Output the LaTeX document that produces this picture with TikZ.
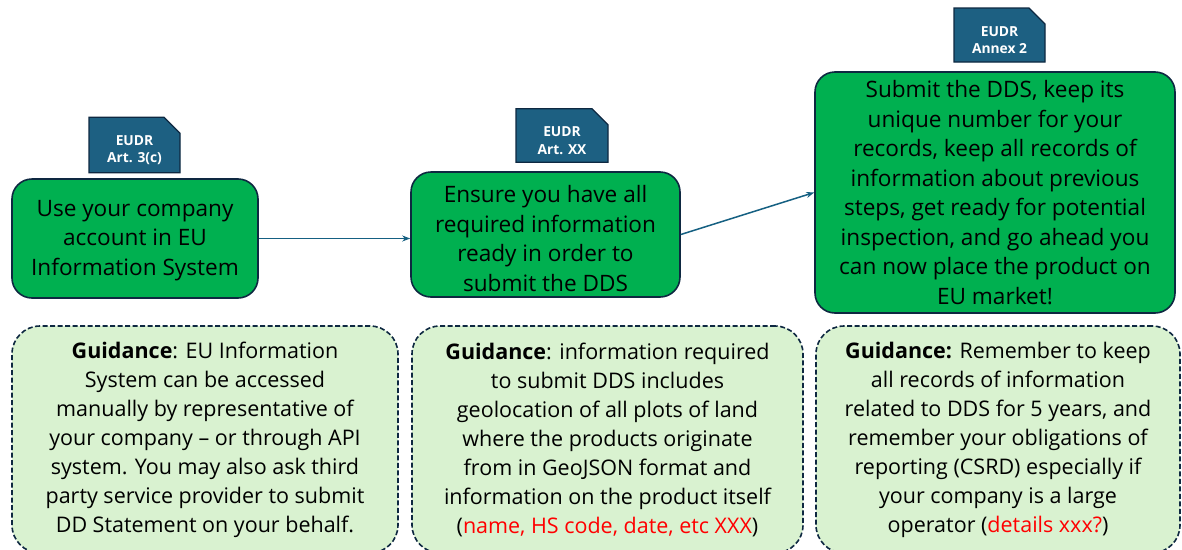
\documentclass[tikz,border=0pt]{standalone}
\usepackage{fontspec}
\setmainfont{Open Sans}
\usetikzlibrary{arrows.meta,shapes.misc}

\definecolor{stepgreen}{HTML}{00B050}
\definecolor{guidegreen}{HTML}{D9F2D0}
\definecolor{navy}{HTML}{0E2841}
\definecolor{badgeblue}{HTML}{1D6082}
\definecolor{arrowblue}{HTML}{156082}
\definecolor{notered}{HTML}{FF0000}

\newcommand{\note}[1]{\textcolor{notered}{#1}}
\newcommand{\lift}{\rule{0pt}{20pt}}

\tikzset{
  stepbox/.style={draw=navy, line width=1.6pt, fill=stepgreen, rounded corners=20pt,
    align=center, inner sep=0pt, font=\fontsize{22.6}{29.5}\selectfont},
  steptext/.style={align=center, inner sep=0pt, font=\fontsize{22.6}{29.5}\selectfont},
  guidebox/.style={draw=navy, line width=1.6pt, dash pattern=on 5pt off 2.5pt,
    fill=guidegreen, rounded corners=28pt, align=center, inner sep=0pt,
    font=\fontsize{21.5}{29}\selectfont},
  badge/.style={chamfered rectangle, chamfered rectangle corners=north east,
    chamfered rectangle xsep=8pt, chamfered rectangle ysep=8pt,
    draw=navy, line width=1.2pt, fill=badgeblue, inner sep=0pt,
    text=white, align=center,
    font=\fontsize{13.8}{17.5}\selectfont\bfseries},
  flow/.style={draw=arrowblue, line width=1.5pt, -{Stealth[length=8pt,width=6pt]}}
}

\begin{document}
\begin{tikzpicture}[x=1pt,y=-1pt]
\useasboundingbox[fill=white] (0,0) rectangle (1182,549);
% Article badges
\node[badge, minimum width=91pt, minimum height=54pt] (art1) at (134.5,145) {\lift EUDR\\Art. 3(c)};
\node[badge, minimum width=92pt, minimum height=53pt] (art2) at (562,135.5) {\lift EUDR\\Art. XX};
\node[badge, minimum width=91pt, minimum height=54pt] (art3) at (999.5,35) {\lift EUDR\\Annex 2};
% Steps
\node[stepbox, minimum width=246pt, minimum height=119pt,
  label={[steptext,yshift=-2pt]center:Use your company\\account in EU\\Information System}]
  (account) at (135,238.5) {};
\node[stepbox, minimum width=269pt, minimum height=125pt,
  label={[steptext,yshift=-4pt]center:Ensure you have all\\required information\\ready in order to\\submit the DDS}]
  (ready) at (545.5,234.5) {};
\node[stepbox, minimum width=360pt, minimum height=241pt] (submit) at (995,192.5)
  {Submit the DDS, keep its\\unique number for your\\records, keep all records of\\information about previous\\steps, get ready for potential\\inspection, and go ahead you\\can now place the product on\\EU market!};
% Guidance
\node[guidebox, minimum width=386pt, minimum height=227pt] (guide1) at (205,439.5)
  {\textbf{Guidance}: EU Information\\System can be accessed\\manually by representative of\\your company -- or through API\\system. You may also ask third\\party service provider to submit\\DD Statement on your behalf.};
\node[guidebox, minimum width=391pt, minimum height=227pt] (guide2) at (607.5,439.5)
  {\textbf{Guidance}: information required\\to submit DDS includes\\geolocation of all plots of land\\where the products originate\\from in GeoJSON format and\\information on the product itself\\(\note{name, HS code, date, etc XXX})};
\node[guidebox, minimum width=364pt, minimum height=227pt] (guide3) at (998,439.5)
  {\textbf{Guidance:} Remember to keep\\all records of information\\related to DDS for 5 years, and\\remember your obligations of\\reporting (CSRD) especially if\\your company is a large\\operator (\note{details xxx?})};
% Connectors
\draw[flow] (account.east) -- (account.east -| ready.west);
\draw[flow] (ready.east) -- (submit.west);
\end{tikzpicture}
\end{document}
